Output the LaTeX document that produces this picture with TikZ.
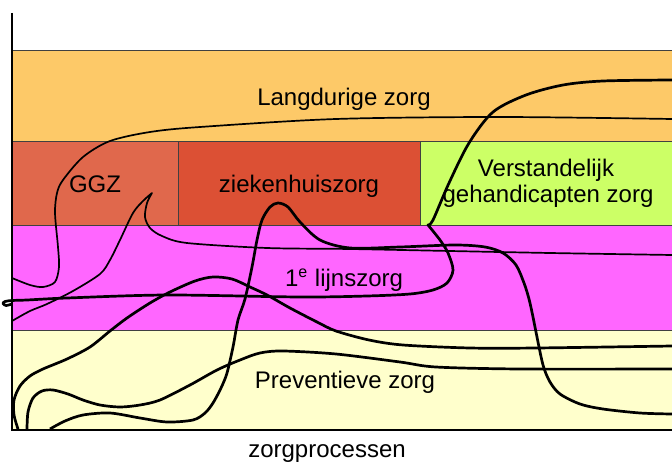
\documentclass[tikz,border=0pt]{standalone}
\usepackage{fontspec}
\setmainfont{Liberation Sans}

\definecolor{langcol}{HTML}{FDC968}
\definecolor{ggzcol}{HTML}{E0684C}
\definecolor{ziekcol}{HTML}{DC5034}
\definecolor{vgzcol}{HTML}{CCFF66}
\definecolor{lijncol}{HTML}{FF66FF}
\definecolor{prevcol}{HTML}{FFFFCC}

\tikzstyle{band} = [draw=black!75, line width=0.5pt]
\tikzstyle{bandtext} = [anchor=base, inner sep=0pt, font=\fontsize{12}{14}\selectfont]
\tikzstyle{flow} = [line width=1.35pt, line join=round]
\tikzstyle{thinflow} = [line width=0.85pt, line join=round]
\tikzstyle{axis} = [line width=1.1pt]

\begin{document}
\begin{tikzpicture}[x=0.5pt, y=-0.5pt]
    \useasboundingbox (0,0) rectangle (672,464);

    % Bands
    \draw [band, fill=langcol] (12,51) rectangle (675,142);
    \draw [band, fill=ggzcol] (12,142) rectangle (178,225);
    \draw [band, fill=ziekcol] (178,142) rectangle (420,225);
    \draw [band, fill=vgzcol] (420,142) rectangle (675,225);
    \draw [band, fill=lijncol] (12,225) rectangle (675,330);
    \draw [band, fill=prevcol] (12,330) rectangle (675,430);

    % Labels
    \node (langdurig) [bandtext] at (344,106) {Langdurige zorg};
    \node (ggz) [bandtext] at (95,193) {GGZ};
    \node (ziekenhuis) [bandtext] at (299,193) {ziekenhuiszorg};
    \node (verstand) [bandtext] at (546,177) {Verstandelijk};
    \node (gehandicapt) [bandtext] at (548,203) {gehandicapten zorg};
    \node (eerstelijn) [bandtext] at (344,286) {1\textsuperscript{e} lijnszorg};
    \node (preventie) [bandtext] at (345,388) {Preventieve zorg};
    \node (processen) [bandtext] at (327,457) {zorgprocessen};

    % Curves
    \draw [thinflow] plot [smooth] coordinates {(12,278) (30,285) (43,287) (55,282) (59,267) (58,247) (55,213) (57,193) (63,180) (83,157) (110,141) (150,132) (200,127) (336,119) (500,117) (672,119)};
    \draw [flow] plot [smooth] coordinates {(672,80) (603,81) (563,85) (526,95) (493,112) (469,143) (449,183) (433,220) (428,225)}
        -- plot [smooth] coordinates {(428,225) (440,240) (448,253) (453,270) (447,283) (433,290) (410,294) (367,296) (300,297) (167,295) (67,298) (27,300) (12,300.5) (5,301.5) (3,303.5) (6,305.5) (12,304)};
    \draw [thinflow] plot [smooth] coordinates {(12,321) (30,311) (47,304) (73,291) (100,274) (110,260) (120,240) (133,213) (143,201) (152,193)}
        -- plot [smooth] coordinates {(152,193) (147,203) (145,217) (150,228) (162,236) (187,243) (267,248) (350,249) (450,251) (550,253) (672,255)};
    \draw [flow] plot [smooth] coordinates {(18,429) (14,415) (14,400) (20,386) (30,376) (43,369) (67,359) (90,347) (110,331) (127,318) (150,303) (170,292) (195,281) (213,277) (232,279) (250,287) (267,295) (290,308) (317,322) (336,331) (369,340) (403,345) (470,348) (536,348) (672,346)};
    \draw [flow] plot [smooth] coordinates {(27,429) (28,412) (33,398) (42,391) (53,390) (68,394) (83,400) (100,405) (120,407) (140,405) (160,400) (190,385) (217,370) (240,360) (260,353) (283,351) (336,354) (400,362) (436,367) (520,369) (672,369)};
    \draw [flow] plot [smooth] coordinates {(50,429) (65,421) (83,415) (110,413) (140,418) (167,422) (193,420) (205,413) (213,403) (221,388) (227,373) (233,347) (238,320) (245,299) (252,267) (257,240) (262,220) (270,207) (278,203) (288,207) (300,222) (320,240) (350,248) (400,247) (455,245) (485,247) (503,253) (516,265) (524,283) (529,299) (533,317) (536,332) (543,365) (550,382) (560,394) (580,404) (603,409) (640,413) (672,414)};

    % Axes
    \draw [axis] (12,13) -- (12,430) -- (672,430);

\end{tikzpicture}
\end{document}
